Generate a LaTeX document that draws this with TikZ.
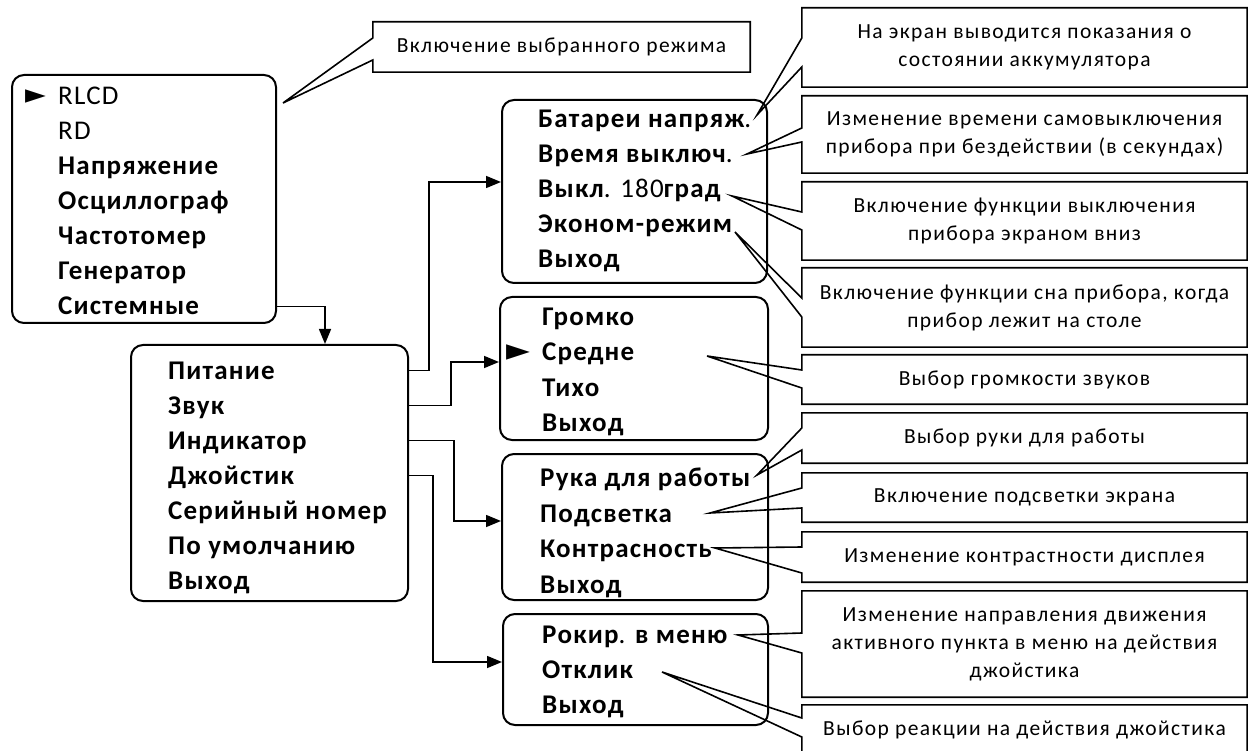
\documentclass[tikz,border=0pt]{standalone}
\usepackage{fontspec}
\setmainfont{Carlito}
\newfontfamily\menufont[LetterSpace=4.5]{Carlito}
\newfontfamily\notefont[LetterSpace=6.5]{Carlito}
\newfontfamily\cursorfont{DejaVu Sans}
\usetikzlibrary{positioning}
\usetikzlibrary{arrows.meta}

\tikzset{
    menu/.style={draw, line width=2pt, rounded corners=12pt},
    item/.style={anchor=base west, inner sep=0pt, text height=17pt, text depth=0pt, font=\fontsize{27}{30}\menufont\bfseries},
    cursor/.style={inner sep=0pt, font=\cursorfont},
    note/.style={inner sep=0pt, align=center, font=\fontsize{21.5}{28}\notefont},
    outline/.style={line width=1.6pt},
    conn/.style={line width=1.5pt, -{Triangle[length=15pt,width=12pt]}}
}

\begin{document}
\begin{tikzpicture}[x=1pt, y=-1pt]
    \useasboundingbox (0,0) rectangle (1248,751);

    % menu frames
    \node [menu, minimum width=264, minimum height=248] (mainmenu) at (144,199) {};
    \node [menu, minimum width=277, minimum height=256] (sysmenu) at (269.5,473) {};
    \node [menu, minimum width=265, minimum height=183] (powmenu) at (634.5,191.5) {};
    \node [menu, minimum width=268, minimum height=143] (sndmenu) at (634,368.5) {};
    \node [menu, minimum width=266, minimum height=146] (indmenu) at (635,527) {};
    \node [menu, minimum width=265, minimum height=111] (joymenu) at (635.5,669.5) {};

    % menu items
    \foreach \t [count=\i] in {{\mdseries RLCD}, {\mdseries RD}, Напряжение, Осциллограф, Частотомер, Генератор, Системные}
        \node [item] (main-\i) at (58,70+35*\i) {\t};
    \foreach \t [count=\i] in {Питание, Звук, Индикатор, Джойстик, Серийный номер, По умолчанию, Выход}
        \node [item] (sys-\i) at (168,344+35*\i) {\t};
    \foreach \t [count=\i] in {Батареи напряж{\mdseries .}, Время выключ{\mdseries .}, Выкл{\mdseries . 180}град, Эконом-режим, Выход}
        \node [item] (pow-\i) at (538,93+35*\i) {\t};
    \foreach \t [count=\i] in {Громко, Средне, Тихо, Выход}
        \node [item] (snd-\i) at (542,291+35*\i) {\t};
    \foreach \t [count=\i] in {Рука для работы, Подсветка, Контрасность, Выход}
        \node [item] (ind-\i) at (540,451+35.5*\i) {\t};
    \foreach \t [count=\i] in {Рокир{\mdseries .} в меню, Отклик, Выход}
        \node [item] (joy-\i) at (542,608+35*\i) {\t};

    \node [cursor, font=\fontsize{27}{27}\cursorfont, left=12pt of main-1] (cur-main) {►};
    \node [cursor, font=\fontsize{31}{31}\cursorfont, left=11pt of snd-2] (cur-snd) {►};

    % links between menus
    \draw [conn] (main-7.west -| mainmenu.east) -| ([xshift=55.5]sysmenu.north);
    \draw [conn] (sys-1.west -| sysmenu.east) -- ++(20,0) |- ([yshift=9.5]powmenu.west);
    \draw [conn] (sys-2.west -| sysmenu.east) -- ++(42,0) |- ([yshift=6.5]sndmenu.west);
    \draw [conn] (sys-3.west -| sysmenu.east) -- ++(45,0) |- ([yshift=6]indmenu.west);
    \draw [conn] (sys-4.west -| sysmenu.east) -- ++(24,0) |- ([yshift=7.5]joymenu.west);

    % callouts
    \node [note, minimum width=377, minimum height=50] (c0) at (561.5,47) {Включение выбранного режима};
    \node [note, minimum width=445, minimum height=79] (c1) at (1024.5,47.5) {На экран выводится показания о\\состоянии аккумулятора};
    \node [note, minimum width=445, minimum height=77] (c2) at (1024.5,134.5) {Изменение времени самовыключения\\прибора при бездействии (в секундах)};
    \node [note, minimum width=445, minimum height=78] (c3) at (1024.5,221) {Включение функции выключения\\прибора экраном вниз};
    \node [note, minimum width=445, minimum height=79] (c4) at (1024.5,307.5) {Включение функции сна прибора, когда\\прибор лежит на столе};
    \node [note, minimum width=445, minimum height=49] (c5) at (1024.5,379.5) {Выбор громкости звуков};
    \node [note, minimum width=445, minimum height=50] (c6) at (1024.5,438) {Выбор руки для работы};
    \node [note, minimum width=445, minimum height=49] (c7) at (1024.5,497.5) {Включение подсветки экрана};
    \node [note, minimum width=445, minimum height=50] (c8) at (1024.5,557) {Изменение контрастности дисплея};
    \node [note, minimum width=445, minimum height=106] (c9) at (1024.5,644) {Изменение направления движения\\активного пункта в меню на действия\\джойстика};
    \node [note, minimum width=445, minimum height=50] (c10) at (1024.5,730) {Выбор реакции на действия джойстика};

    % callout tips
    \coordinate (tip-c0) at (283,103);
    \coordinate (tip-c1) at (757,115);
    \coordinate (tip-c2) at (747,154);
    \coordinate (tip-c3) at (732,196);
    \coordinate (tip-c4) at (735,232);
    \coordinate (tip-c5) at (707,356);
    \coordinate (tip-c6) at (757,475);
    \coordinate (tip-c7) at (710,513);
    \coordinate (tip-c8) at (715,548);
    \coordinate (tip-c9) at (738,635);
    \coordinate (tip-c10) at (662,672);

    \foreach \c/\ya/\yb in {c0/38/60, c1/38/67, c2/128/142, c3/212/230, c4/298/317, c5/370/388, c6/428/450, c7/488/508, c8/547/573, c9/633/653, c10/718/737}
        \draw [outline] (\c.north west) -- (\c.west |- 0,\ya) -- (tip-\c) -- (\c.west |- 0,\yb) -- (\c.south west) -- (\c.south east) -- (\c.north east) -- cycle;
\end{tikzpicture}
\end{document}
